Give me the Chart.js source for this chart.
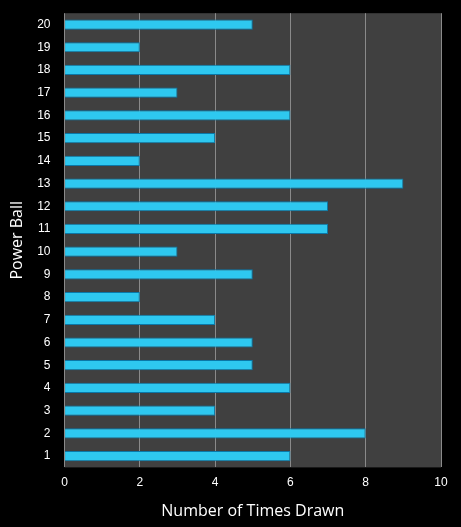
<!DOCTYPE html>
<html>
<head>
<meta charset="utf-8">
<script src="https://cdn.jsdelivr.net/npm/chart.js@4/dist/chart.umd.min.js"></script>
<style>
  html, body { margin: 0; padding: 0; background: #000; }
  #wrap { width: 461px; height: 527px; }
</style>
</head>
<body>
<div id="wrap"><canvas id="chart"></canvas></div>
<script>
const balls = ['1','2','3','4','5','6','7','8','9','10','11','12','13','14','15','16','17','18','19','20'];
const timesDrawn = [6, 8, 4, 6, 5, 5, 4, 2, 5, 3, 7, 7, 9, 2, 4, 6, 3, 6, 2, 5];
const xTicks = [0, 2, 4, 6, 8, 10];

// dark grey plot area like the original
const plotBg = {
    id: 'plotBg',
    beforeDraw(chart) {
        const { ctx, chartArea: a } = chart;
        ctx.save();
        ctx.fillStyle = '#404040';
        ctx.fillRect(a.left, a.top, a.right - a.left, a.bottom - a.top);
        ctx.restore();
    }
};

const barFill = (c) => {
    const el = c.element;
    if (!el || el.height === undefined) return '#2ec8f0';
    const top = el.y - el.height / 2, bottom = el.y + el.height / 2;
    if (!isFinite(top) || !isFinite(bottom) || top === bottom) return '#2ec8f0';
    const g = c.chart.ctx.createLinearGradient(0, top, 0, bottom);
    g.addColorStop(0, '#9fefff');
    g.addColorStop(0.4, '#2fcdf5');
    g.addColorStop(1, '#0f8fc0');
    return g;
};

new Chart(document.getElementById('chart').getContext('2d'), {
    type: 'bar',
    data: {
        labels: balls,
        datasets: [{
            data: timesDrawn,
            backgroundColor: barFill,
            borderColor: '#0a78a8',
            borderWidth: 1,
            barPercentage: 0.45,
            categoryPercentage: 1
        }]
    },
    options: {
        indexAxis: 'y',
        responsive: true,
        maintainAspectRatio: false,
        animation: false,
        layout: { padding: { top: 10, right: 20, left: 4, bottom: 2 } },
        plugins: { legend: { display: false }, tooltip: { enabled: false } },
        scales: {
            x: {
                min: 0, max: 10,
                afterBuildTicks: (axis) => { axis.ticks = xTicks.map(v => ({ value: v })); },
                grid: { color: '#8a8a8a', drawTicks: false },
                border: { display: false },
                ticks: { color: '#fff', padding: 8, font: { family: 'Liberation Sans', size: 12 } },
                title: { display: true, text: 'Number of Times Drawn', color: '#fff',
                         font: { family: 'Open Sans', size: 16 } }
            },
            y: {
                reverse: true,
                grid: { display: false },
                border: { display: false },
                ticks: { color: '#fff', padding: 6, font: { family: 'Liberation Sans', size: 12 } },
                title: { display: true, text: 'Power Ball', color: '#fff',
                         font: { family: 'Open Sans', size: 16 } }
            }
        }
    },
    plugins: [plotBg]
});
</script>
</body>
</html>
